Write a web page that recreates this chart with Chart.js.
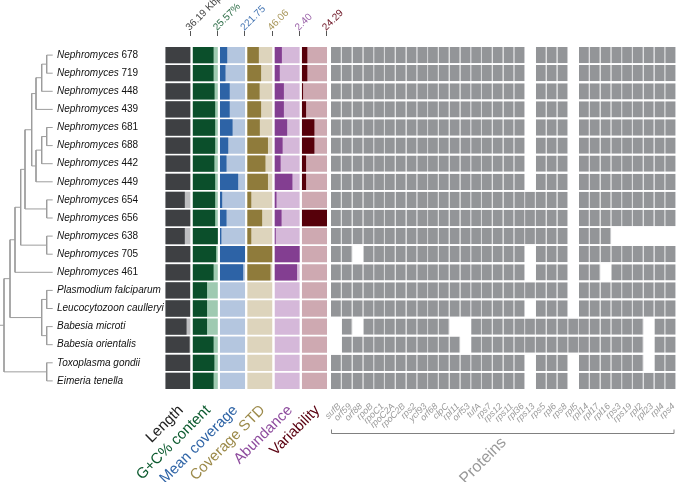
<!DOCTYPE html>
<html>
<head>
<meta charset="utf-8">
<script src="https://cdn.jsdelivr.net/npm/chart.js@4.4.1/dist/chart.umd.min.js"></script>
<style>
  html, body { margin: 0; padding: 0; background: #fff; }
  #wrap { width: 676px; height: 482px; position: relative; }
</style>
</head>
<body>
<div id="wrap"><canvas id="c"></canvas></div>
<script>
// 행 = 분류군 (위→아래), 열 = 메타데이터 6개 + 단백질 존재/부재 32개
const taxa = [
  'Nephromyces 678', 'Nephromyces 719', 'Nephromyces 448', 'Nephromyces 439',
  'Nephromyces 681', 'Nephromyces 688', 'Nephromyces 442', 'Nephromyces 449',
  'Nephromyces 654', 'Nephromyces 656', 'Nephromyces 638', 'Nephromyces 705',
  'Nephromyces 461', 'Plasmodium falciparum', 'Leucocytozoon caulleryi',
  'Babesia microti', 'Babesia orientalis', 'Toxoplasma gondii', 'Eimeria tenella',
];
const lengthKbp = [36.19, 36.0, 36.1, 36.0, 36.1, 36.0, 35.9, 36.0, 27.9, 36.0, 27.9, 36.1, 35.9, 35.5, 35.6, 30.4, 34.8, 35.8, 35.4];
const gcContent = [21.2, 21.2, 22.2, 22.8, 22.8, 22.8, 22.0, 22.8, 22.8, 22.8, 25.57, 23.8, 21.2, 14.6, 14.6, 14.6, 21.2, 22.0, 21.2];
const meanCoverage = [64, 49, 86, 86, 111, 73, 58, 160, 20, 58, 13, 221.75, 204, null, null, null, null, null, null];
const coverageStd = [21.2, 25.3, 22.6, 25.3, 23.0, 37.8, 33.2, 37.8, 7.4, 27.2, 7.4, 46.06, 42.4, null, null, null, null, null, null];
const abundance = [0.70, 0.50, 0.89, 0.89, 1.20, 0.77, 0.58, 1.70, 0.19, 0.67, 0.12, 2.40, 2.14, null, null, null, null, null, null];
const variability = [5.3, 5.3, 1.2, 4.1, 12.1, 12.1, 4.1, 4.1, null, 24.29, null, null, null, null, null, null, null, null, null];

const columnMax = [36.19, 25.57, 221.75, 46.06, 2.40, 24.29];
const columnTop = ['36.19 Kbp', '25.57%', '221.75', '46.06', '2.40', '24.29'];
const columnNames = ['Length', 'G+C% content', 'Mean coverage', 'Coverage STD', 'Abundance', 'Variability'];

const proteins = [
  'sufB', 'orf59', 'orf88', 'rpoB', 'rpoC1', 'rpoC2A', 'rpoC2B', 'rps2', 'ycf93', 'orf68', 'clpC',
  'rpl11', 'orf53', 'tufA', 'rps7', 'rps12', 'rps11', 'rpl36', 'rps13', 'rps5', 'rpl6', 'rps8',
  'rpl5', 'rpl14', 'rpl17', 'rpl16', 'rps3', 'rps19', 'rpl2', 'rpl23', 'rpl4', 'rps4',
];
// 1 = 있음, 0 = 없음 (proteins 순서)
const presence = [
  '11111111111111111101110111111111',
  '11111111111111111101110111111111',
  '11111111111111111101110111111111',
  '11111111111111111101110111111111',
  '11111111111111111101110111111111',
  '11111111111111111101110111111111',
  '11111111111111111101110111111111',
  '11111111111111111101110111111111',
  '11111111111111111111110111111111',
  '11111111111111111111110111111111',
  '11111111111111111111110111000000',
  '11011111111111111101110111111111',
  '11111111111111111101110110111111',
  '11111111111111111111110111111111',
  '11111111111111111101110111111111',
  '01011111111001111111111111111011',
  '01111111111101111111111111111011',
  '11111111111111111101110111111011',
  '11111111111111111101110111111111',
];

// 분지도: [노드 깊이, 자식...], 잎 = 행 번호
const tree = [4,
  [10,
    [15,
      [20.7,
        [25,
          [31.7,
            [36, [41.7, [46.7, 0, 1], 2], 3],
            [36, [41.7, [46.7, 4, 5], 6], 7]],
          [46.7, 8, 9]],
        [46.7, 10, 11]],
      12],
    [41.7, [46.7, 13, 14], [46.7, 15, 16]]],
  [46.7, 17, 18]];
const leafDepth = 52.7;

const darkColors = ['#3e4043', '#0b4f2b', '#2d63a6', '#8f7b3b', '#833e91', '#56000a'];
const lightColors = ['#bdbec0', '#9fcab1', '#b4c6df', '#ddd4bc', '#d5b8d9', '#cea9b1'];
const topColors = ['#444444', '#2a6b45', '#4676b3', '#a8965a', '#9a62a8', '#6a1020'];
const nameColors = ['#222222', '#0b5a2e', '#2f64a6', '#9c8a4a', '#8e4c9e', '#5a0010'];
const FONT = '"Liberation Sans", Arial, sans-serif';

// tree → 선분
const treeSegs = [];
function place(node) {
  if (typeof node === 'number') return { x: leafDepth, y: node };
  const [depth, ...kids] = node;
  const pts = kids.map(place);
  const ys = pts.map((p) => p.y);
  const lo = Math.min(...ys), hi = Math.max(...ys);
  treeSegs.push({ x: depth, y: lo }, { x: depth, y: hi }, { x: null, y: null });
  pts.forEach((p) => treeSegs.push({ x: depth, y: p.y }, { x: p.x, y: p.y }, { x: null, y: null }));
  return { x: depth, y: (lo + hi) / 2 };
}
const root = place(tree);
treeSegs.push({ x: 0, y: root.y }, { x: root.x, y: root.y });

const metaIds = ['xLen', 'xGC', 'xCov', 'xStd', 'xAbu', 'xVar'];
const metaValues = [lengthKbp, gcContent, meanCoverage, coverageStd, abundance, variability];

const hidden = (w, extra) => ({ type: 'linear', display: false, position: 'bottom', stack: 'row', stackWeight: w, ...extra });
const scales = {
  y: { type: 'linear', min: -0.5, max: 18.5, reverse: true, display: false, ticks: { stepSize: 1 } },
  xTree: hidden(56, { min: 0, max: 56 }),
  gapLabel: hidden(109.3),
};
metaIds.forEach((id, k) => {
  scales[id] = hidden(25.3, { min: 0, max: columnMax[k] });
  if (k < metaIds.length - 1) scales['gap' + k] = hidden(2);
});
scales.gapGrid = hidden(3.9);
scales.xProt = hidden(345, { min: 0, max: proteins.length });
Object.keys(scales).forEach((k, i) => { if (k !== 'y') scales[k].weight = i; });

const datasets = [{
  type: 'line', xAxisID: 'xTree', yAxisID: 'y', data: treeSegs,
  borderColor: '#9d9d9d', borderWidth: 1, pointRadius: 0, spanGaps: false, tension: 0, order: 0,
}];
metaIds.forEach((id, k) => {
  const base = { type: 'bar', indexAxis: 'y', xAxisID: id, yAxisID: 'y', grouped: false, barPercentage: 0.9, categoryPercentage: 1, borderWidth: 0 };
  datasets.push({ ...base, order: 1, backgroundColor: darkColors[k], data: metaValues[k].map((v, r) => ({ x: v, y: r })) });
  datasets.push({ ...base, order: 2, backgroundColor: lightColors[k], data: taxa.map((t, r) => ({ x: columnMax[k], y: r })) });
});
const cells = [];
presence.forEach((row, r) => row.split('').forEach((f, c) => { if (f === '1') cells.push({ x: [c, c + 1], y: r }); }));
datasets.push({
  type: 'bar', indexAxis: 'y', xAxisID: 'xProt', yAxisID: 'y', grouped: false, barPercentage: 0.9, categoryPercentage: 1,
  data: cells, backgroundColor: '#939598', borderColor: '#d0d1d3', borderWidth: { top: 0, bottom: 0, left: 0, right: 1 }, borderSkipped: false, order: 1,
});

function rotText(ctx, text, x, y, align, baseline) {
  ctx.save();
  ctx.translate(x, y);
  ctx.rotate(-Math.PI / 4);
  ctx.textAlign = align;
  ctx.textBaseline = baseline;
  ctx.fillText(text, 0, 0);
  ctx.restore();
}

const decorations = {
  id: 'decorations',
  afterDraw(chart) {
    const { ctx, chartArea, scales: s } = chart;
    const top = chartArea.top, bottom = chartArea.bottom;
    ctx.save();
    // 분류군 이름
    const labelX = s.xTree.right + 1;
    taxa.forEach((name, r) => {
      const m = name.match(/^(.*?)( \d+)?$/);
      const y = s.y.getPixelForValue(r);
      ctx.textBaseline = 'middle';
      ctx.textAlign = 'left';
      ctx.fillStyle = '#111';
      ctx.font = `italic 10px ${FONT}`;
      ctx.fillText(m[1], labelX, y);
      if (m[2]) {
        const w = ctx.measureText(m[1]).width;
        ctx.font = `10px ${FONT}`;
        ctx.fillText(m[2], labelX + w, y);
      }
    });
    // 메타데이터 열 머리 / 이름
    metaIds.forEach((id, k) => {
      const sc = s[id];
      const xr = sc.getPixelForValue(columnMax[k]);
      ctx.strokeStyle = '#555';
      ctx.lineWidth = 1;
      ctx.beginPath();
      ctx.moveTo(Math.round(xr) - 0.5, top - 6);
      ctx.lineTo(Math.round(xr) - 0.5, top - 1);
      ctx.stroke();
      ctx.fillStyle = topColors[k];
      ctx.font = `10px ${FONT}`;
      rotText(ctx, columnTop[k], xr - 1, top - 6, 'left', 'alphabetic');
      ctx.fillStyle = nameColors[k];
      ctx.font = `15px ${FONT}`;
      rotText(ctx, columnNames[k], (sc.left + sc.right) / 2 + 3, bottom + 9, 'right', 'middle');
    });
    // 단백질 이름
    const p = s.xProt;
    ctx.fillStyle = '#9a9a9a';
    ctx.font = `italic 9px ${FONT}`;
    proteins.forEach((name, c) => {
      rotText(ctx, name, p.getPixelForValue(c + 0.5) + 3, bottom + 6, 'right', 'middle');
    });
    // 괄호
    const by = bottom + 34.5;
    ctx.strokeStyle = '#808080';
    ctx.beginPath();
    ctx.moveTo(p.left + 0.5, by - 4);
    ctx.lineTo(p.left + 0.5, by);
    ctx.lineTo(p.right - 2, by);
    ctx.lineTo(p.right - 2, by - 4);
    ctx.stroke();
    ctx.fillStyle = '#9a9a9a';
    ctx.font = `16px ${FONT}`;
    rotText(ctx, 'Proteins', p.getPixelForValue(14.1), bottom + 62, 'center', 'middle');
    ctx.restore();
  },
};

new Chart(document.getElementById('c'), {
  data: { datasets },
  options: {
    responsive: true, maintainAspectRatio: false, animation: false,
    layout: { padding: { left: 0, right: 0, top: 37, bottom: 83 } },
    plugins: { legend: { display: false }, tooltip: { enabled: false } },
    scales,
  },
  plugins: [decorations],
});
</script>
</body>
</html>
